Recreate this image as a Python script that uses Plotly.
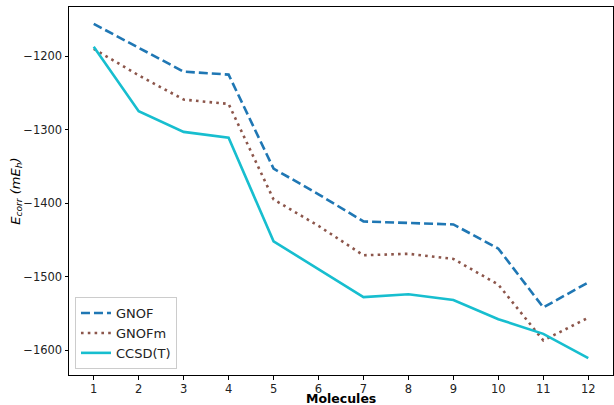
import plotly.graph_objects as go

molecules = list(range(1, 13))
gnof = [-1156, -1188, -1221, -1225, -1353, -1388, -1425, -1427, -1429, -1462, -1542, -1508]
gnofm = [-1190, -1226, -1259, -1265, -1395, -1431, -1471, -1469, -1476, -1511, -1587, -1556]
ccsdt = [-1187, -1275, -1303, -1311, -1452, -1490, -1528, -1524, -1532, -1558, -1578, -1611]
y_ticks = [-1200, -1300, -1400, -1500, -1600]

fig = go.Figure()
fig.add_trace(go.Scatter(x=molecules, y=gnof, mode="lines", name="GNOF",
                         line=dict(color="#1f77b4", width=2.6, dash="9px,4px")))
fig.add_trace(go.Scatter(x=molecules, y=gnofm, mode="lines", name="GNOFm",
                         line=dict(color="#8c564b", width=2.6, dash="2.6px,4.2px")))
fig.add_trace(go.Scatter(x=molecules, y=ccsdt, mode="lines", name="CCSD(T)",
                         line=dict(color="#17becf", width=2.6)))

axis_common = dict(showline=True, linecolor="black", linewidth=1, mirror=True,
                   ticks="outside", ticklen=3.5, tickcolor="black", showgrid=False,
                   zeroline=False, automargin=False,
                   tickfont=dict(family="DejaVu Sans", size=11.5, color="#222222"))

fig.update_layout(
    width=614, height=405,
    margin=dict(l=69, r=1, t=7, b=30),
    plot_bgcolor="white", paper_bgcolor="white",
    font=dict(family="DejaVu Sans", color="black"),
    xaxis=dict(range=[0.45, 12.55], tickmode="array", tickvals=molecules,
               ticktext=[str(m) for m in molecules], ticklabelstandoff=0,
               **axis_common),
    yaxis=dict(range=[-1634, -1133], tickmode="array", tickvals=y_ticks,
               ticktext=[str(v).replace("-", "\u2212") for v in y_ticks],
               **axis_common),
    legend=dict(x=0.011, y=0.016, xanchor="left", yanchor="bottom",
                bgcolor="rgba(255,255,255,0.8)", bordercolor="#cccccc", borderwidth=1,
                font=dict(family="DejaVu Sans", size=13, color="#222222"), tracegroupgap=0),
    showlegend=True,
    annotations=[
        dict(text="<b>Molecules</b>", xref="paper", yref="paper", x=0.5, y=-0.063,
             xanchor="center", yanchor="middle", showarrow=False, borderpad=0,
             font=dict(family="DejaVu Sans", size=12.5, color="black")),
        dict(text="<i>E<sub>corr</sub> (mE<sub>h</sub>)</i>", xref="paper", yref="paper",
             x=-0.098, y=0.5, xanchor="center", yanchor="middle", textangle=-90,
             showarrow=False, font=dict(family="DejaVu Sans", size=13, color="black")),
    ],
)

fig.write_html("out.html", config={"displayModeBar": False},
               post_script="document.body.style.margin='0px';document.body.style.overflow='hidden';")
